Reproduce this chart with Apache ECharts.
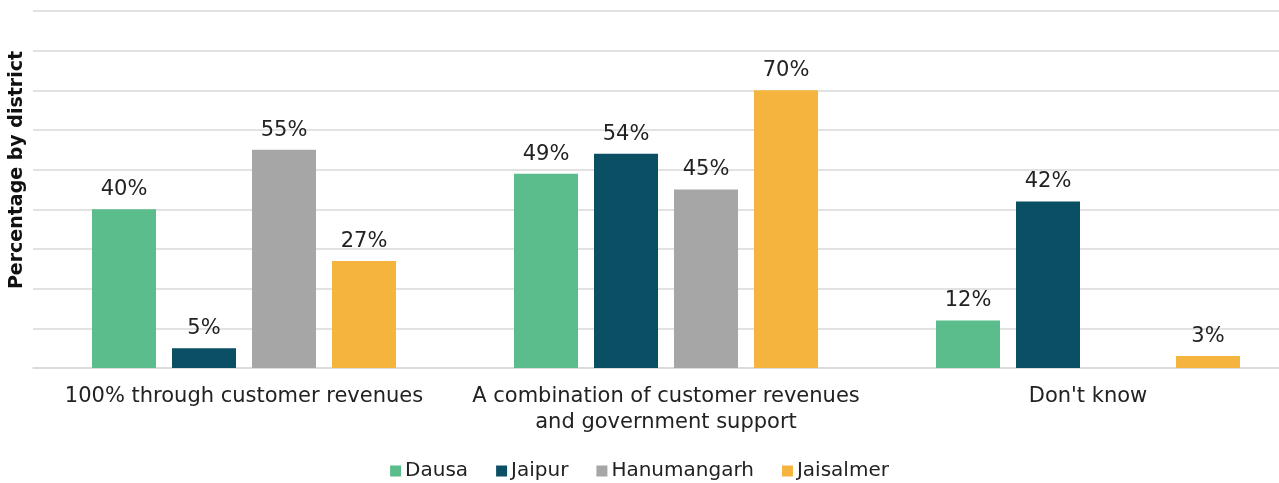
<!DOCTYPE html>
<html>
<head>
<meta charset="utf-8">
<script src="https://cdn.jsdelivr.net/npm/echarts@6/dist/echarts.min.js"></script>
<style>
  html, body { margin: 0; padding: 0; background: #fff; }
  #chart { width: 1279px; height: 483px; }
</style>
</head>
<body>
<div id="chart"></div>
<script>
// data
const categories = [
  '100% through customer revenues',
  'A combination of customer revenues\nand government support',
  "Don't know"
];
const districts = ['Dausa', 'Jaipur', 'Hanumangarh', 'Jaisalmer'];
const dausa = [40, 49, 12];
const jaipur = [5, 54, 42];
const hanumangarh = [55, 45, null];
const jaisalmer = [27, 70, 3];
const colors = ['#5bbd8b', '#0a4f63', '#a6a6a6', '#f5b43e'];

const font = '"DejaVu Sans", sans-serif';
const seriesData = [dausa, jaipur, hanumangarh, jaisalmer];

const chart = echarts.init(document.getElementById('chart'));

const option = {
  animation: false,
  textStyle: { fontFamily: font },
  grid: { left: 33, width: 1266, top: 11, bottom: 115, outerBoundsMode: 'none' },
  legend: {
    top: 456,
    left: 'center',
    icon: 'rect',
    itemWidth: 11,
    itemHeight: 11,
    itemGap: 28,
    itemStyle: { borderWidth: 0 },
    textStyle: { fontSize: 20, color: '#222', fontFamily: font, padding: [0, 0, 0, -1] },
    data: districts
  },
  graphic: [{
    type: 'text',
    x: 17,
    y: 170,
    rotation: Math.PI / 2,
    style: {
      text: 'Percentage by district',
      fontSize: 19,
      fontWeight: 'bold',
      fontFamily: font,
      fill: '#111',
      textAlign: 'center',
      textVerticalAlign: 'middle'
    }
  }],
  xAxis: {
    type: 'category',
    data: categories,
    axisLine: { lineStyle: { color: '#d9d9d9', width: 1.5 } },
    axisTick: { show: false },
    axisLabel: {
      interval: 0,
      margin: 16,
      fontSize: 21,
      lineHeight: 26,
      color: '#222',
      fontFamily: font
    }
  },
  yAxis: {
    type: 'value',
    min: 0,
    max: 90,
    interval: 10,
    axisLabel: { show: false },
    axisLine: { show: false },
    axisTick: { show: false },
    splitLine: { lineStyle: { color: '#d9d9d9', width: 1.5 } }
  },
  series: districts.map((name, i) => ({
    name: name,
    type: 'bar',
    data: seriesData[i],
    barWidth: 64,
    barGap: '25%',
    itemStyle: { color: colors[i] },
    label: {
      show: true,
      position: 'top',
      distance: 9,
      fontSize: 21,
      color: '#222',
      fontFamily: font,
      formatter: p => p.value + '%'
    }
  }))
};

chart.setOption(option);
</script>
</body>
</html>
